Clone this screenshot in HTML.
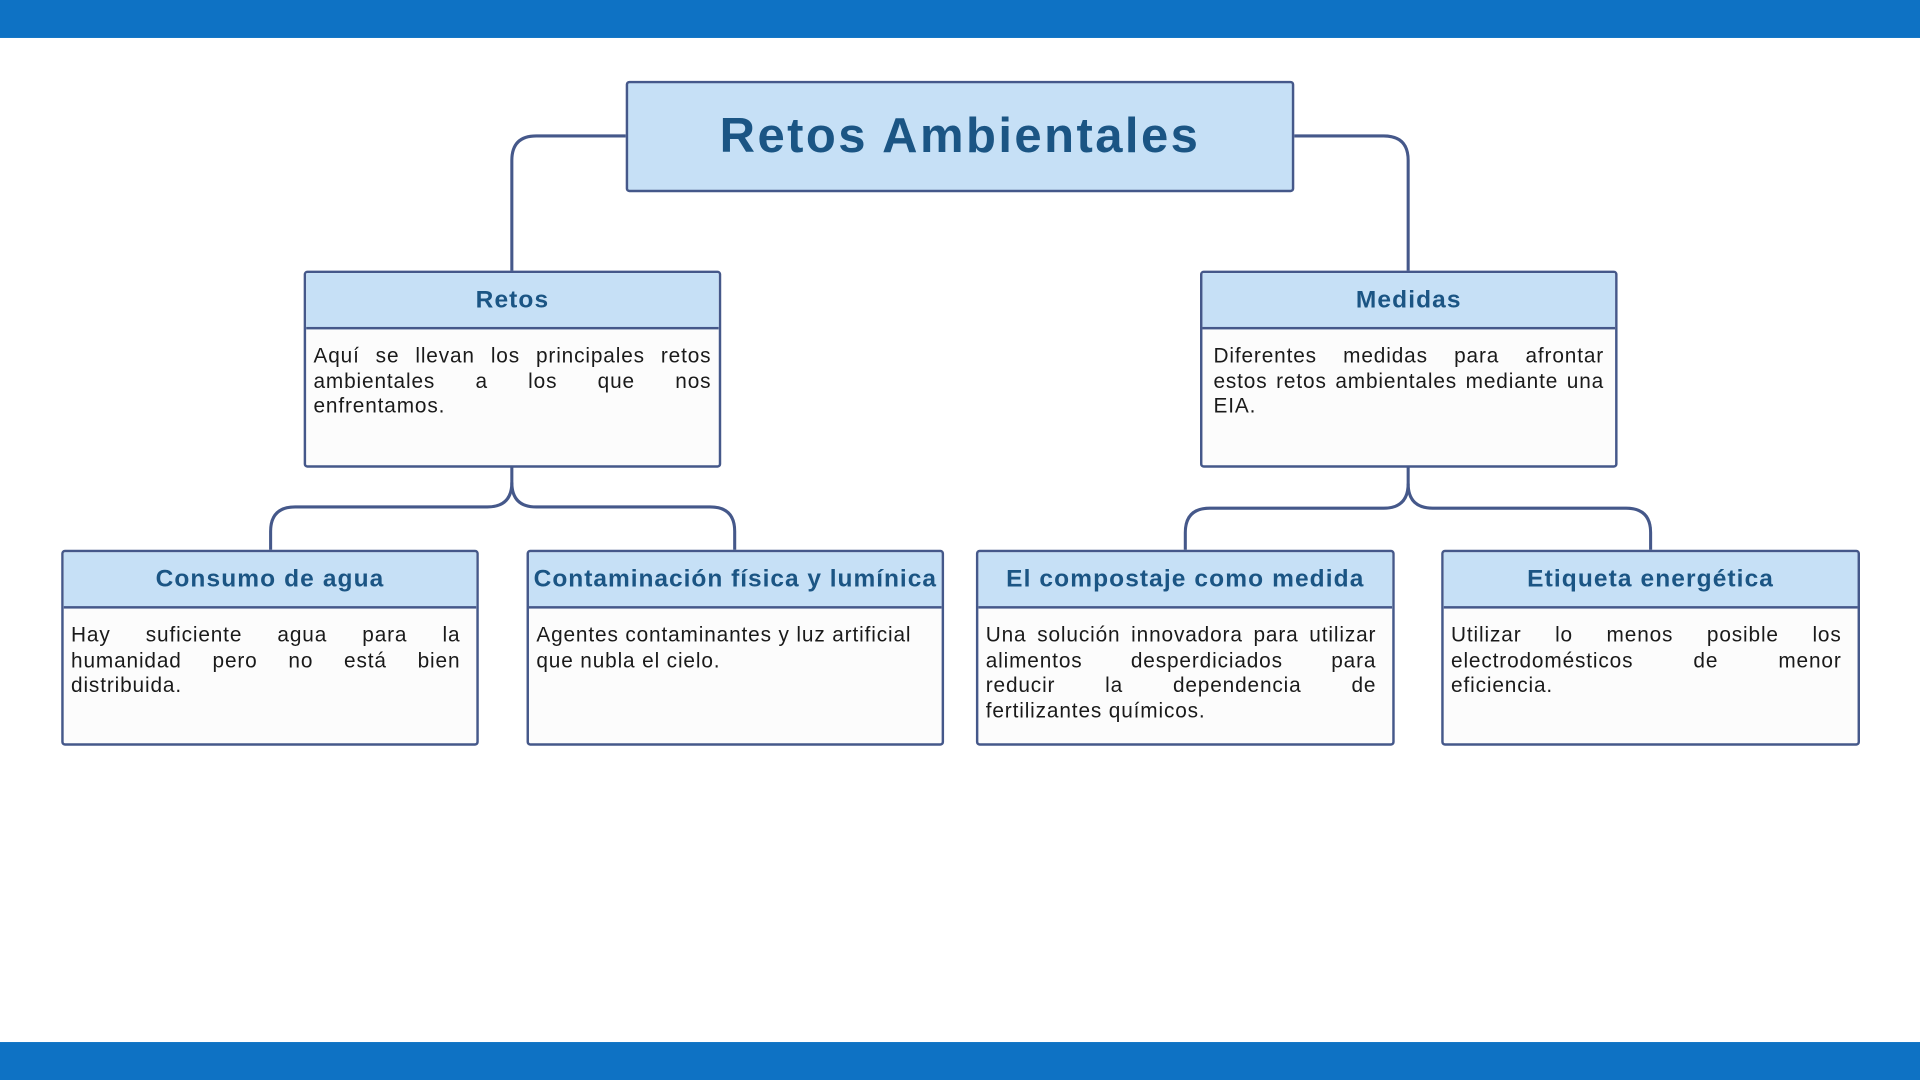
<!DOCTYPE html>
<html><head><meta charset="utf-8">
<style>
html,body{margin:0;padding:0;width:1920px;height:1080px;overflow:hidden;background:#fff;}
#s{position:absolute;left:0;top:0;width:1568px;height:882px;transform:scale(1.22449);transform-origin:0 0;font-family:"Liberation Sans",sans-serif;}
.bar{position:absolute;left:0;width:1568px;height:31px;background:#0e72c4;}
.box{position:absolute;box-sizing:border-box;border:2px solid #45588a;border-radius:3px;background:#fcfcfc;overflow:hidden;}
.hd{height:44px;background:#c6e0f6;border-bottom:2px solid #45588a;color:#1b5584;font-weight:bold;font-size:20px;letter-spacing:0.9px;text-align:center;line-height:44px;white-space:nowrap;}
.bd{padding:12px 6px 0 6px;font-size:17px;letter-spacing:0.7px;line-height:20.5px;color:#1a1a1a;text-align:justify;}
.j{text-align:justify;text-align-last:justify;white-space:nowrap;}
</style></head><body>
<div id="s">
<div class="bar" style="top:0"></div>
<div class="bar" style="top:851px"></div>
<svg width="1568" height="882" style="position:absolute;left:0;top:0">
<g fill="none" stroke="#45588a" stroke-width="2.5">
<path d="M511 111 H438 Q418 111 418 131 V221"/>
<path d="M1057 111 H1130 Q1150 111 1150 131 V221"/>
<path d="M418 381 V394 Q418 414 398 414 H241 Q221 414 221 434 V449"/>
<path d="M418 394 Q418 414 438 414 H580 Q600 414 600 434 V449"/>
<path d="M1150 381 V395 Q1150 415 1130 415 H988 Q968 415 968 435 V449"/>
<path d="M1150 395 Q1150 415 1170 415 H1328 Q1348 415 1348 435 V449"/>
</g></svg>
<div class="box" style="left:511px;top:66px;width:546px;height:91px;background:#c6e0f6;">
<div style="text-align:center;line-height:87px;font-size:40px;letter-spacing:2px;font-weight:bold;color:#1b5584;">Retos Ambientales</div></div>
<div class="box" style="left:248px;top:221px;width:341px;height:161px"><div class="hd">Retos</div><div class="bd">Aquí se llevan los principales retos ambientales a los que nos enfrentamos.</div></div>
<div class="box" style="left:980px;top:221px;width:341px;height:161px"><div class="hd">Medidas</div><div class="bd" style="padding-left:9px;padding-right:9px">Diferentes medidas para afrontar estos retos ambientales mediante una EIA.</div></div>
<div class="box" style="left:50px;top:449px;width:341px;height:160px"><div class="hd">Consumo de agua</div><div class="bd" style="padding-right:13px">Hay suficiente agua para la humanidad pero no está bien distribuida.</div></div>
<div class="box" style="left:430px;top:449px;width:341px;height:160px"><div class="hd" style="letter-spacing:0.8px">Contaminación física y lumínica</div><div class="bd" style="text-align:left">Agentes contaminantes y luz artificial que nubla el cielo.</div></div>
<div class="box" style="left:797px;top:449px;width:342px;height:160px"><div class="hd">El compostaje como medida</div><div class="bd" style="padding-right:13px"><div class="j">Una solución innovadora para utilizar</div><div class="j">alimentos desperdiciados para</div><div class="j">reducir la dependencia de</div><div>fertilizantes químicos.</div></div></div>
<div class="box" style="left:1177px;top:449px;width:342px;height:160px"><div class="hd">Etiqueta energética</div><div class="bd" style="padding-right:13px">Utilizar lo menos posible los electrodomésticos de menor eficiencia.</div></div>
</div>
</body></html>
